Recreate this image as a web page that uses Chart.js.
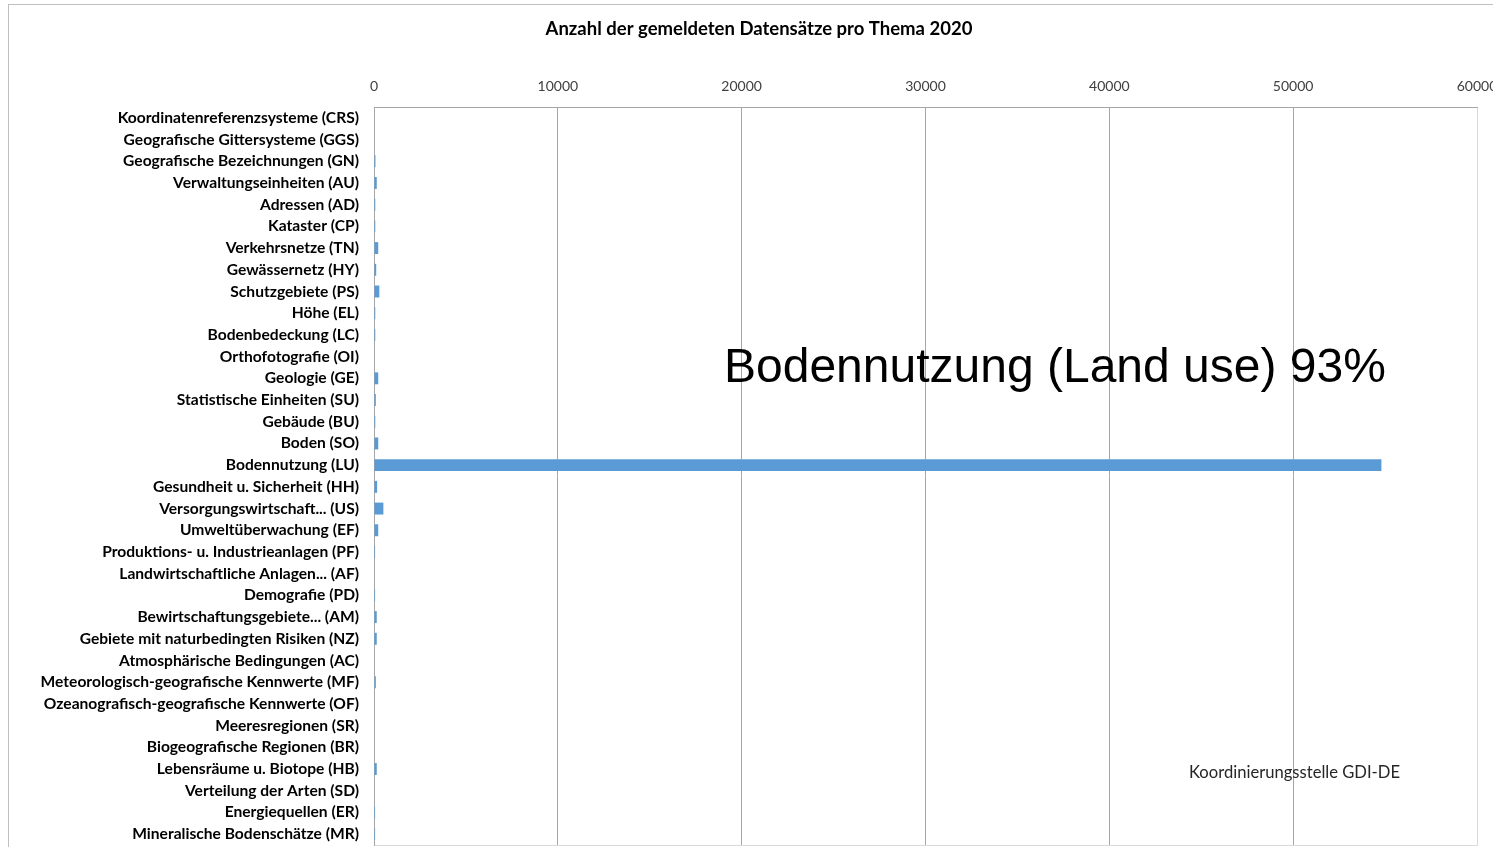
<!DOCTYPE html>
<html><head><meta charset="utf-8">
<script src="https://cdn.jsdelivr.net/npm/chart.js@4/dist/chart.umd.min.js"></script>
<style>
html,body{margin:0;padding:0;background:#fff;overflow:hidden;width:1493px;height:847px}
#frame{position:absolute;left:8px;top:4px;width:1600px;height:900px;border:1px solid #bfbfbf;box-sizing:border-box}
#wrap{position:absolute;left:0;top:0;width:1493px;height:847px}
</style></head>
<body><div id="frame"></div><div id="wrap"><canvas id="c"></canvas></div>
<script>
const titleText = 'Anzahl der gemeldeten Datensätze pro Thema 2020';
const categories = [
  'Koordinatenreferenzsysteme (CRS)','Geografische Gittersysteme (GGS)','Geografische Bezeichnungen (GN)',
  'Verwaltungseinheiten (AU)','Adressen (AD)','Kataster (CP)','Verkehrsnetze (TN)','Gewässernetz (HY)',
  'Schutzgebiete (PS)','Höhe (EL)','Bodenbedeckung (LC)','Orthofotografie (OI)','Geologie (GE)',
  'Statistische Einheiten (SU)','Gebäude (BU)','Boden (SO)','Bodennutzung (LU)','Gesundheit u. Sicherheit (HH)',
  'Versorgungswirtschaft... (US)','Umweltüberwachung (EF)','Produktions- u. Industrieanlagen (PF)',
  'Landwirtschaftliche Anlagen... (AF)','Demografie (PD)','Bewirtschaftungsgebiete... (AM)',
  'Gebiete mit naturbedingten Risiken (NZ)','Atmosphärische Bedingungen (AC)',
  'Meteorologisch-geografische Kennwerte (MF)','Ozeanografisch-geografische Kennwerte (OF)',
  'Meeresregionen (SR)','Biogeografische Regionen (BR)','Lebensräume u. Biotope (HB)',
  'Verteilung der Arten (SD)','Energiequellen (ER)','Mineralische Bodenschätze (MR)'
];
const datasetCounts = [
  0, 0, 80, 150, 70, 70, 230, 120, 290, 70, 70, 0, 230, 100, 70, 230, 54800, 170,
  510, 230, 60, 0, 60, 150, 150, 0, 100, 0, 0, 0, 150, 0, 60, 60
];
const xMin = 0, xMax = 60000, xStep = 10000;
const annotationMain = 'Bodennutzung (Land use) 93%';
const annotationSource = 'Koordinierungsstelle GDI-DE';

const plotFrame = {
  id: 'plotFrame',
  beforeDraw(chart) {
    const {ctx, chartArea: a} = chart;
    ctx.save();
    ctx.strokeStyle = '#d9d9d9';
    ctx.lineWidth = 1;
    ctx.strokeRect(a.left + 0.5, a.top + 0.5, a.right - a.left, a.bottom - a.top);
    ctx.restore();
  }
};
const annotations = {
  id: 'annotations',
  afterDraw(chart) {
    const {ctx} = chart;
    ctx.save();
    ctx.fillStyle = '#000';
    ctx.font = '48px "Liberation Sans", Arial, sans-serif';
    ctx.textBaseline = 'alphabetic';
    ctx.textAlign = 'left';
    ctx.fillText(annotationMain, 724, 382);
    ctx.fillStyle = '#262626';
    ctx.font = '16.6px Lato, sans-serif';
    ctx.textBaseline = 'middle';
    ctx.fillText(annotationSource, 1189, 773);
    ctx.restore();
  }
};

const padLeft = 41;
new Chart(document.getElementById('c'), {
  type: 'bar',
  data: {
    labels: categories,
    datasets: [{
      data: datasetCounts,
      backgroundColor: '#5B9BD5',
      borderWidth: 0,
      barPercentage: 0.55,
      categoryPercentage: 1.0
    }]
  },
  options: {
    indexAxis: 'y',
    responsive: true,
    maintainAspectRatio: false,
    animation: false,
    layout: {padding: {left: padLeft, right: 16, top: 0, bottom: 2}},
    plugins: {
      legend: {display: false},
      tooltip: {enabled: false},
      title: {
        display: true, text: titleText, color: '#000',
        font: {family: 'Lato', size: 18.5, weight: 'bold'},
        padding: {top: 18, bottom: 0}
      }
    },
    scales: {
      x: {
        position: 'top', min: xMin, max: xMax,
        ticks: {stepSize: xStep, callback: v => String(v), color: '#404040',
          font: {family: 'Lato', size: 14}, padding: 12.5, maxRotation: 0},
        grid: {color: c => (c.tick && c.tick.value === xMax) ? '#d9d9d9' : '#a6a6a6', drawTicks: false, lineWidth: 1},
        border: {color: '#a6a6a6'},
        afterFit(s) { s.height = 107 - 18 - 18.5 * 1.2; s.paddingLeft = 0; s.paddingRight = 0; }
      },
      y: {
        ticks: {color: '#000', font: {family: 'Lato', size: 15.6, weight: 'bold'}, padding: 15, autoSkip: false},
        grid: {display: false, drawTicks: false},
        border: {color: '#a6a6a6'},
        afterFit(s) { s.width = 374 - padLeft; s.paddingTop = 0; s.paddingBottom = 0; }
      }
    }
  },
  plugins: [plotFrame, annotations]
});
</script>
</body></html>
